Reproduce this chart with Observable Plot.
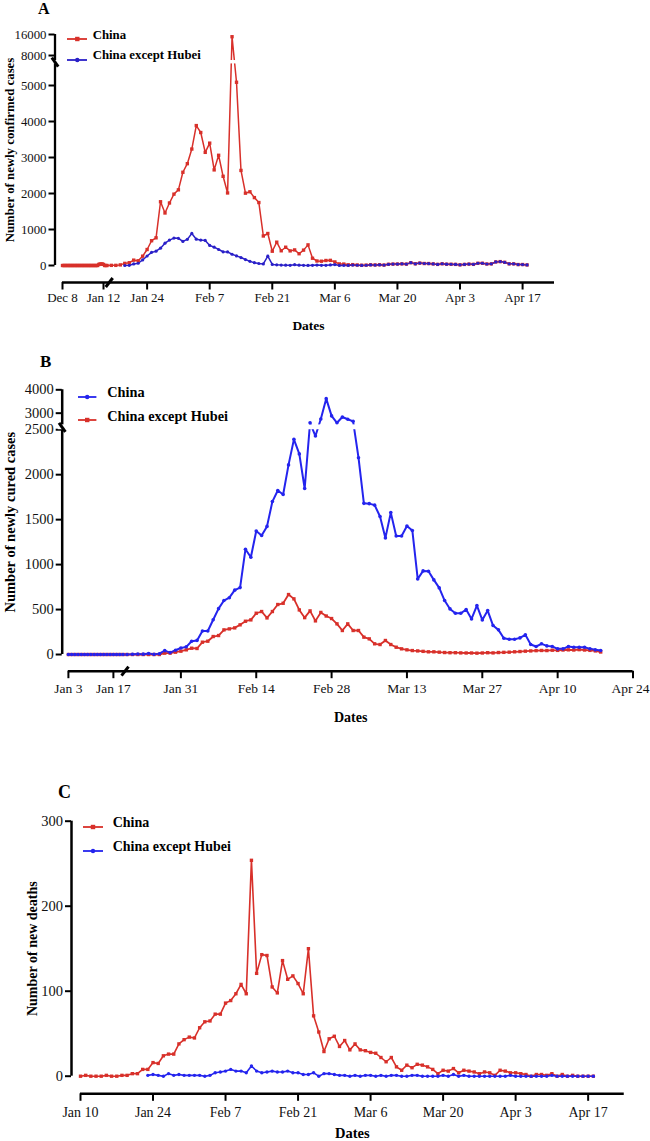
<!DOCTYPE html>
<html><head><meta charset="utf-8">
<script src="https://cdn.jsdelivr.net/npm/d3@7"></script>
<script src="https://cdn.jsdelivr.net/npm/@observablehq/plot@0.6"></script>
<style>
html,body{margin:0;padding:0;background:#fff;}
#page{position:relative;width:650px;height:1141px;overflow:hidden;background:#fff;font-family:"Liberation Serif","Times New Roman",serif;}
#page svg, #page svg text{font-family:"Liberation Serif","Times New Roman",serif !important;}
.panel{position:absolute;left:0;}
.abs{position:absolute;white-space:nowrap;font-weight:bold;color:#000;}
</style></head><body><div id="page"></div>
<script>
// ---------------- DATA ----------------
// Panel A: newly confirmed cases (daily)
const confirmedChinaStart = "2019-12-08";
const confirmedChina = [
  0,0,0,0,0,0,0,0,0,0,0,0,0,0,0,0,0,0,0,0,0,0,0,0,            // Dec 8-31
  0,0,0,0,0,0,0,30,41,41,41,30,0,0,0,                             // Jan 1-15
  4,4,17,59,77,149,131,259,444,688,769,1771,1459,1737,1982,2102, // Jan 16-31
  2590,2829,3235,3887,3694,3143,3399,2656,3062,2478,2015,15152,5090,2641,2009,2048,1886,1749,820,889,397,648,409,508,406,433,327,427,573,
  202,125,119,139,143,99,44,40,19,24,15,8,11,20,16,21,13,34,39,41,46,39,78,47,67,55,54,45,31,48,36,
  35,31,19,30,39,32,62,63,42,46,99,108,89,46,46,26,27,16
];
const confirmedExHubeiStart = "2020-01-19";
const confirmedExHubei = [
  0,5,44,62,154,264,365,398,480,619,705,762,755,
  669,726,890,731,707,696,558,509,444,381,377,312,267,221,166,115,79,56,45,258,31,18,11,9,5,24,9,4,3,
  6,11,4,5,17,25,3,4,2,11,7,3,7,16,12,20,12,34,39,41,46,39,78,47,67,55,54,45,31,48,36,
  35,31,19,30,39,32,62,63,42,46,99,108,89,46,46,26,27,16
];
const confirmedTicksY = [0,1000,2000,3000,4000,5000,8000,16000];
const confirmedTicksX = ["2019-12-08","2020-01-12","2020-01-24","2020-02-07","2020-02-21","2020-03-06","2020-03-20","2020-04-03","2020-04-17"];

// Panel B: newly cured cases (daily)
const curedChinaStart = "2020-01-03";
const curedChina = [
  0,0,0,0,0,0,0,0,0,0,0,0,0,0,0,0,0,0,       // Jan 3-20
  0,3,6,4,11,2,9,43,21,47,72,                // Jan 21-31
  85,147,157,262,261,387,510,600,632,716,744,1171,1081,1373,1323,1425,1701,1824,1779,2109,2393,2231,1846,2589,2430,2750,3622,2884,2589,
  2837,2742,2652,2189,1681,1678,1661,1535,1297,1578,1318,1318,1430,1380,840,930,926,830,741,600,507,459,459,500,396,544,385,489,322,274,181,
  170,170,185,219,111,89,119,96,89,63,63,89,81,81,81,63,52,44
];
const curedExHubeiStart = "2020-01-03";
const curedExHubei = [
  0,0,0,0,0,0,0,0,0,0,0,0,0,0,0,0,0,0,0,0,0,0,0,0,0, // Jan 3-27
  15,15,26,37,
  52,70,67,137,148,200,211,274,285,296,330,370,385,459,478,407,478,556,570,667,619,496,410,485,374,468,428,400,341,
  267,341,267,267,193,174,119,111,156,111,81,63,52,44,40,35,30,30,26,22,20,20,18,17,17,15,17,20,18,22,24,
  26,30,33,37,40,43,45,44,48,46,50,52,50,54,50,46,40,28
];
const curedTicksY = [0,500,1000,1500,2000,2500,3000,4000];
const curedTicksX = ["2020-01-03","2020-01-17","2020-01-31","2020-02-14","2020-02-28","2020-03-13","2020-03-27","2020-04-10","2020-04-24"];

// Panel C: new deaths (daily)
const deathsChinaStart = "2020-01-10";
const deathsChina = [
  0,1,0,0,0,1,0,0,1,1,3,3,8,8,16,15,24,26,26,38,43,46,
  45,57,64,65,73,73,86,89,97,108,97,254,121,143,142,105,98,136,114,118,109,97,150,71,52,29,44,47,35,
  42,31,38,31,30,28,27,22,17,22,11,7,13,10,14,13,11,8,3,7,6,9,4,7,6,5,3,5,4,1,7,
  6,4,4,3,2,0,2,2,1,3,0,2,0,1,0,0,0,0
];
const deathsExHubeiStart = "2020-01-23";
const deathsExHubei = [
  1,2,1,0,3,1,2,1,1,
  1,1,0,1,4,5,6,8,6,6,4,12,6,4,5,6,5,5,6,4,4,2,2,4,0,3,3,2,1,
  1,0,1,0,1,1,0,1,0,1,1,0,0,1,1,0,0,0,0,1,0,2,0,1,0,0,0,0,0,0,0,
  0,1,0,0,0,0,0,0,0,1,0,0,0,0,0,0,0,0
];
const deathTicksY = [0,100,200,300];
const deathTicksX = ["2020-01-10","2020-01-24","2020-02-07","2020-02-21","2020-03-06","2020-03-20","2020-04-03","2020-04-17"];

const seriesNames = ["China", "China except Hubei"];

// ---------------- HELPERS ----------------
const FONT = '"Liberation Serif","Times New Roman",serif';
const DAY = 864e5;
const parse = s => new Date(s + "T00:00:00Z");
const days = (d, s) => Math.round((d - parse(s)) / DAY);
const rows = (start, values) => { const s = parse(start); return values.map((v, i) => ({date: new Date(+s + i * DAY), v})); };
const fmt = d3.utcFormat("%b %-d");
const RED = "#d8302a";

// broken-axis mappings
function uA(d) { const t = days(d, "2019-12-08"); return t <= 38 ? t * 0.26206 : t - 28.07; }
function gA(v) { return v <= 5600 ? v : 5833 + (v - 8000) * 0.073; }
function uB(d) { const t = days(d, "2020-01-03"); return t <= 17 ? t * 0.5972 : t - 7.10; }
function gB(v) { return v <= 2500 ? v : 2554 + (v - 2500) * 0.26; }
function uC(d) { return days(d, "2020-01-10"); }
function gC(v) { return v; }

const page = document.getElementById("page");

function makePanel(c) {
  const W = 650;
  const pxU = (W - c.ml - c.mr) / (c.uMax - c.uMin);
  const pxG = (c.height - c.mt - c.mb) / (c.gMax - c.gMin);
  const U = c.u, G = c.g;
  const ux = c.uMin, gx = c.gMin;
  const tickDates = c.xTicks.map(parse);
  const xStart = U(tickDates[0]);
  const m = [];
  // y axis
  m.push(Plot.ruleX([0], {x: () => ux, y1: () => G(0), y2: () => c.gMax, stroke: "#000", strokeWidth: c.axisW}));
  m.push(Plot.ruleY(c.yTicks, {y: d => G(d), x1: () => ux - 6 / pxU, x2: () => ux, stroke: "#000", strokeWidth: 2}));
  m.push(Plot.text(c.yTicks, {x: () => ux, y: d => G(d), text: d => String(d), textAnchor: "end", dx: -8.5, fontSize: c.yfs, fontFamily: FONT, fill: "#111"}));
  // x axis
  m.push(Plot.ruleY([0], {y: () => gx, x1: () => xStart, x2: () => c.uMax, stroke: "#000", strokeWidth: c.axisW}));
  m.push(Plot.ruleX(tickDates, {x: d => U(d), y1: () => gx, y2: () => gx - 7.5 / pxG, stroke: "#000", strokeWidth: 2}));
  const lastShift = c.lastLabelDx || 0;
  const mainTicks = lastShift ? tickDates.slice(0, -1) : tickDates;
  m.push(Plot.text(mainTicks, {x: d => U(d), y: () => gx - c.labDy / pxG, text: d => fmt(d), fontSize: c.xfs, fontFamily: FONT, fill: "#111"}));
  if (lastShift) {
    m.push(Plot.text(tickDates.slice(-1), {x: d => U(d), y: () => gx - c.labDy / pxG, text: d => fmt(d), dx: lastShift, fontSize: c.xfs, fontFamily: FONT, fill: "#111"}));
  }
  // titles
  m.push(Plot.text(["Dates"], {x: () => (xStart + c.uMax) / 2, y: () => gx - c.datesDy / pxG, text: d => d, fontWeight: "bold", fontSize: c.tfs, fontFamily: FONT}));
  m.push(Plot.text([c.yTitle], {x: () => ux - c.titleOff / pxU, y: () => (G(0) + c.gMax) / 2, text: d => d, rotate: -90, fontWeight: "bold", fontSize: c.yTfs, fontFamily: FONT}));
  // series lines
  for (const s of c.series) {
    m.push(Plot.line(s.rows, {x: d => U(d.date), y: d => G(d.v), stroke: s.color, strokeWidth: s.lw}));
  }
  // broken y-axis gap
  if (c.yGap) {
    m.push(Plot.rect([0], {x1: () => ux - 4 / pxU, x2: () => c.uMax, y1: () => c.yGap[0], y2: () => c.yGap[1], fill: "#fff"}));
  }
  for (const s of c.series) {
    m.push(Plot.dot(s.rows, {x: d => U(d.date), y: d => G(d.v), symbol: s.symbol, r: s.r, fill: s.color, stroke: "none"}));
  }
  // break marks
  if (c.yGap) {
    const gc = (c.yGap[0] + c.yGap[1]) / 2;
    m.push(Plot.link([{x1: ux - 3.2 / pxU, y1: gc + 4.5 / pxG, x2: ux + 3.2 / pxU, y2: gc - 4.5 / pxG}],
      {x1: "x1", y1: "y1", x2: "x2", y2: "y2", stroke: "#000", strokeWidth: 3}));
  }
  if (c.xBreak != null) {
    m.push(Plot.link([{x1: c.xBreak - 3.5 / pxU, y1: gx - 4.5 / pxG, x2: c.xBreak + 3.5 / pxU, y2: gx + 4.5 / pxG}],
      {x1: "x1", y1: "y1", x2: "x2", y2: "y2", stroke: "#000", strokeWidth: 3}));
  }
  const svg = Plot.plot({
    width: W, height: c.height,
    marginLeft: c.ml, marginRight: c.mr, marginTop: c.mt, marginBottom: c.mb,
    x: {domain: [c.uMin, c.uMax], axis: null},
    y: {domain: [c.gMin, c.gMax], axis: null},
    style: {background: "transparent", fontFamily: FONT, overflow: "visible"},
    marks: m
  });
  const div = document.createElement("div");
  div.className = "panel";
  div.style.top = c.top + "px";
  div.appendChild(svg);
  page.appendChild(div);
}

function addText(txt, left, baseline, fs) {
  const el = document.createElement("div");
  el.className = "abs";
  el.textContent = txt;
  el.style.left = left + "px";
  el.style.fontSize = fs + "px";
  el.style.lineHeight = fs + "px";
  el.style.top = (baseline - 0.8375 * fs) + "px";
  page.appendChild(el);
}
function addLegend(x1, x2, cy, color, symbol, label, tx, fs) {
  const w = x2 - x1, mid = w / 2;
  const mk = symbol === "square"
    ? `<rect x="${mid - 2.2}" y="2.8" width="4.4" height="4.4" fill="${color}"/>`
    : `<circle cx="${mid}" cy="5" r="2.2" fill="${color}"/>`;
  const s = document.createElement("div");
  s.style.cssText = `position:absolute;left:${x1}px;top:${cy - 5}px;width:${w}px;height:10px;`;
  s.innerHTML = `<svg width="${w}" height="10"><line x1="0" x2="${w}" y1="5" y2="5" stroke="${color}" stroke-width="1.8"/>${mk}</svg>`;
  page.appendChild(s);
  addText(label, tx, cy + 0.33 * fs, fs);
}

// ---------------- PANELS ----------------
const BLUE_A = "#2a20c8", BLUE = "#2424ee";

makePanel({
  top: 0, height: 340, ml: 54.5, mr: 96, mt: 34, mb: 58,
  uMin: -1.678, uMax: 110.07, gMin: -472.2, gMax: gA(16000),
  u: uA, g: gA, yGap: [5600, gA(6100)], xBreak: 10.45,
  yTicks: confirmedTicksY, xTicks: confirmedTicksX,
  yfs: 12.8, xfs: 13, tfs: 13.5, yTfs: 12.8, labDy: 15.5, datesDy: 43, titleOff: 45.5, axisW: 2.3,
  yTitle: "Number of newly confirmed cases",
  series: [
    {rows: rows(confirmedChinaStart, confirmedChina), color: RED, symbol: "square", r: 1.9, lw: 1.5},
    {rows: rows(confirmedExHubeiStart, confirmedExHubei), color: BLUE_A, symbol: "circle", r: 1.6, lw: 1.5}
  ]
});

makePanel({
  top: 345, height: 385, ml: 61.7, mr: 17.5, mt: 44.3, mb: 59.3,
  uMin: -1.152, uMax: 104.9, gMin: -185.6, gMax: gB(4000),
  u: uB, g: gB, yGap: [2500, 2554], xBreak: 10.52, lastLabelDx: -2.5,
  yTicks: curedTicksY, xTicks: curedTicksX,
  yfs: 14.5, xfs: 13.5, tfs: 14, yTfs: 14.5, labDy: 17.5, datesDy: 46, titleOff: 52, axisW: 2.5,
  yTitle: "Number of newly cured cases",
  series: [
    {rows: rows(curedExHubeiStart, curedExHubei), color: RED, symbol: "square", r: 1.9, lw: 1.8},
    {rows: rows(curedChinaStart, curedChina), color: BLUE, symbol: "circle", r: 1.8, lw: 2}
  ]
});

makePanel({
  top: 735, height: 406, ml: 71, mr: 26.25, mt: 85.7, mb: 47.7,
  uMin: -1.737, uMax: 104.97, gMin: -20.7, gMax: 300,
  u: uC, g: gC, yGap: null, xBreak: null,
  yTicks: deathTicksY, xTicks: deathTicksX,
  yfs: 14.5, xfs: 14, tfs: 14.5, yTfs: 14, labDy: 18.5, datesDy: 39.5, titleOff: 38.5, axisW: 2.5,
  yTitle: "Number of new deaths",
  series: [
    {rows: rows(deathsChinaStart, deathsChina), color: RED, symbol: "square", r: 1.9, lw: 1.6},
    {rows: rows(deathsExHubeiStart, deathsExHubei), color: BLUE, symbol: "circle", r: 1.7, lw: 1.6}
  ]
});

// panel letters
addText("A", 38, 14.5, 16);
addText("B", 40, 367, 17);
addText("C", 58, 798, 18);

// legends
addLegend(66.7, 87.3, 35, RED, "square", seriesNames[0], 92.7, 12.8);
addLegend(66.7, 87.3, 55.7, BLUE_A, "circle", seriesNames[1], 92.7, 12.8);
addLegend(78.3, 96.7, 392.7, BLUE, "circle", seriesNames[0], 107.3, 14.3);
addLegend(78.3, 96.7, 416, RED, "square", seriesNames[1], 107.3, 14.3);
addLegend(83.3, 103.3, 822.7, RED, "square", seriesNames[0], 112.7, 14);
addLegend(83.3, 103.3, 847.3, BLUE, "circle", seriesNames[1], 112.7, 14);
</script></body></html>
